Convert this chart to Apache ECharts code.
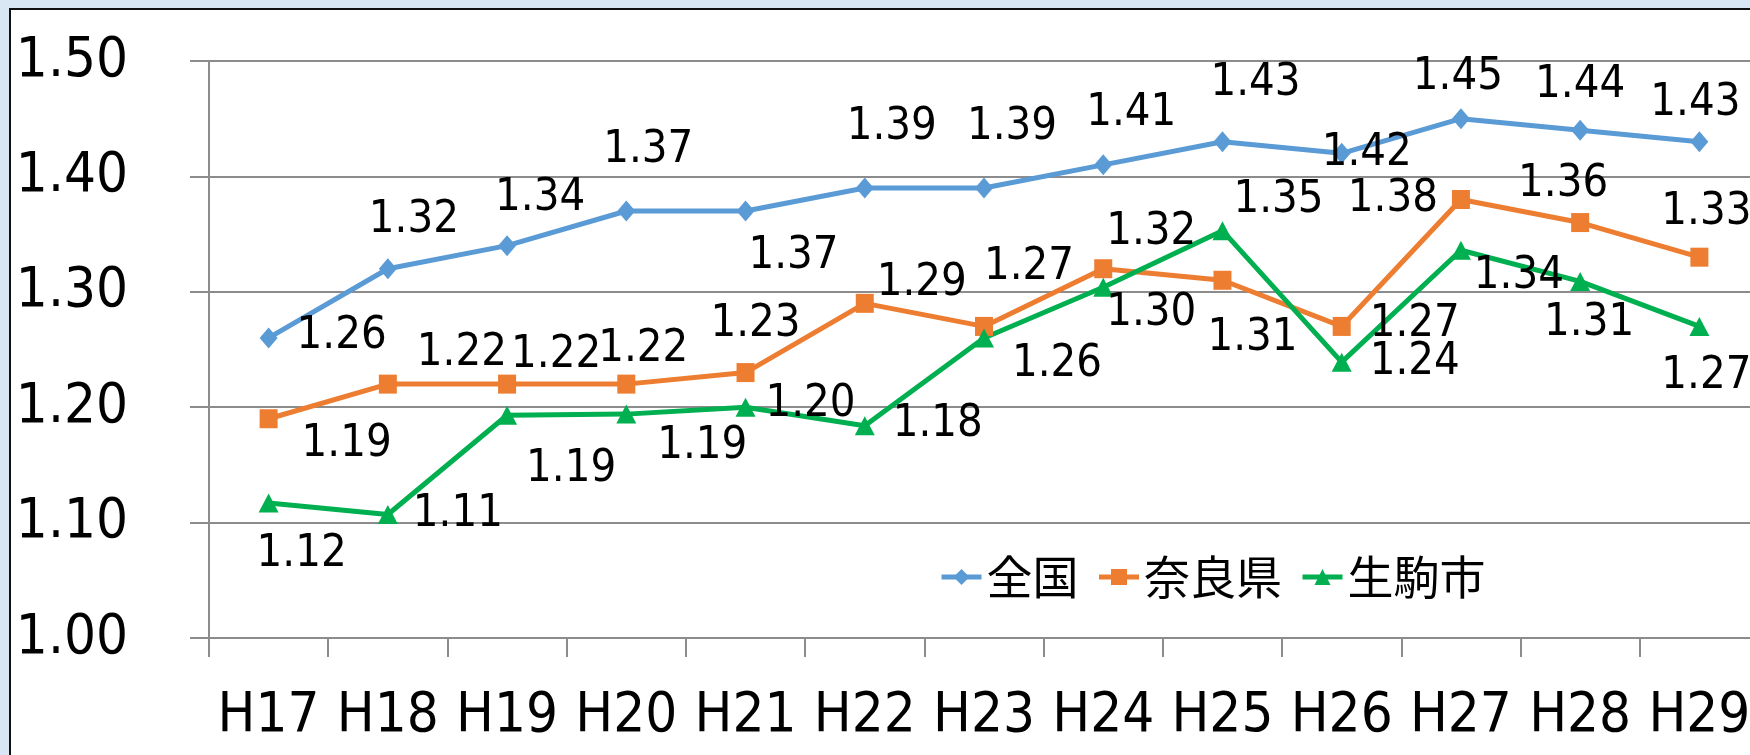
<!DOCTYPE html>
<html>
<head>
<meta charset="utf-8">
<script src="https://cdn.jsdelivr.net/npm/echarts@6/dist/echarts.min.js"></script>
<style>
  html, body { margin: 0; padding: 0; }
  body { width: 1750px; height: 755px; background: #d9e6f3; position: relative; overflow: hidden; }
  .frame { position: absolute; left: 9px; top: 8px; width: 1760px; height: 770px; background: #fff; border: 2px solid #111; box-sizing: border-box; }
  #chart { position: absolute; left: 0; top: 0; width: 1750px; height: 755px; }
</style>
</head>
<body>
<div class="frame"></div>
<div id="chart"></div>
<script>
// データ
const categories = ['H17', 'H18', 'H19', 'H20', 'H21', 'H22', 'H23', 'H24', 'H25', 'H26', 'H27', 'H28', 'H29']
const zenkoku = [1.26, 1.32, 1.34, 1.37, 1.37, 1.39, 1.39, 1.41, 1.43, 1.42, 1.45, 1.44, 1.43]
const nara = [1.19, 1.22, 1.22, 1.22, 1.23, 1.29, 1.27, 1.32, 1.31, 1.27, 1.38, 1.36, 1.33]
const ikoma = [1.117, 1.107, 1.193, 1.194, 1.2, 1.184, 1.26, 1.304, 1.353, 1.239, 1.336, 1.309, 1.27]
const yMin = 1.0
const yMax = 1.5
const yStep = 0.1

// ラベル位置（点からのずれ）
const zenkokuOffsets = [[73, -2], [26, -48], [33, -47], [22, -61], [48, 45], [27, -61], [28, -61], [28, -52], [33, -58], [25, 0], [-3, -41], [0, -45], [-4, -38]]
const naraOffsets = [[78, 26], [74, -31], [49, -29], [17, -35], [10, -48], [57, -20], [45, -59], [48, -36], [30, 58], [73, -2], [-68, 0], [-17, -38], [7, -45]]
const ikomaOffsets = [[33, 51], [70, 0], [64, 54], [76, 32], [65, -3], [73, -1], [73, 26], [48, 26], [56, -30], [73, 0], [58, 26], [9, 42], [7, 50]]

const numFont = "'DejaVu Sans Condensed', 'DejaVu Sans', sans-serif"
const cjkFont = "'Noto Sans CJK JP', sans-serif"

const withLabels = (values, offsets) =>
  values.map((v, i) => ({ value: v, label: { offset: offsets[i] } }))

const makeSeries = (name, values, offsets, color, symbol, symbolSize) => ({
  name,
  type: 'line',
  data: withLabels(values, offsets),
  symbol,
  symbolSize,
  lineStyle: { color, width: 5 },
  itemStyle: { color },
  label: {
    show: true,
    position: 'inside',
    align: 'center',
    verticalAlign: 'middle',
    fontFamily: numFont,
    fontSize: 45,
    color: '#000',
    formatter: (p) => p.value.toFixed(2),
  },
  emphasis: { disabled: true },
  animation: false,
})

const chart = echarts.init(document.getElementById('chart'))
chart.setOption({
  animation: false,
  grid: {
    left: 209,
    right: -9,
    top: 61,
    bottom: 117,
    containLabel: false,
    outerBoundsMode: 'none',
  },
  legend: {
    data: ['全国', '奈良県', '生駒市'],
    left: 934,
    top: 549,
    itemWidth: 40,
    itemHeight: 20,
    itemGap: 18,
    lineStyle: { width: 5 },
    textStyle: { fontFamily: cjkFont, fontSize: 46, color: '#000' },
  },
  xAxis: {
    type: 'category',
    data: categories,
    boundaryGap: true,
    axisLine: { lineStyle: { color: '#8c8c8c', width: 2 } },
    axisTick: { show: true, length: 19, lineStyle: { color: '#8c8c8c', width: 2 } },
    axisLabel: { fontFamily: numFont, fontSize: 56, color: '#000', margin: 50, interval: 0 },
  },
  yAxis: {
    type: 'value',
    min: yMin,
    max: yMax,
    interval: yStep,
    axisLine: { show: true, lineStyle: { color: '#8c8c8c', width: 2 } },
    axisTick: { show: true, length: 19, lineStyle: { color: '#8c8c8c', width: 2 } },
    splitLine: { lineStyle: { color: '#8c8c8c', width: 2 } },
    axisLabel: {
      fontFamily: numFont,
      fontSize: 56,
      color: '#000',
      margin: 81,
      padding: [0, 0, 18, 0],
      formatter: (v) => v.toFixed(2),
    },
  },
  series: [
    makeSeries('全国', zenkoku, zenkokuOffsets, '#5b9bd5', 'diamond', [18, 21]),
    makeSeries('奈良県', nara, naraOffsets, '#ed7d31', 'rect', [18, 19]),
    makeSeries('生駒市', ikoma, ikomaOffsets, '#00b050', 'triangle', [20, 19]),
  ],
})
</script>
</body>
</html>
